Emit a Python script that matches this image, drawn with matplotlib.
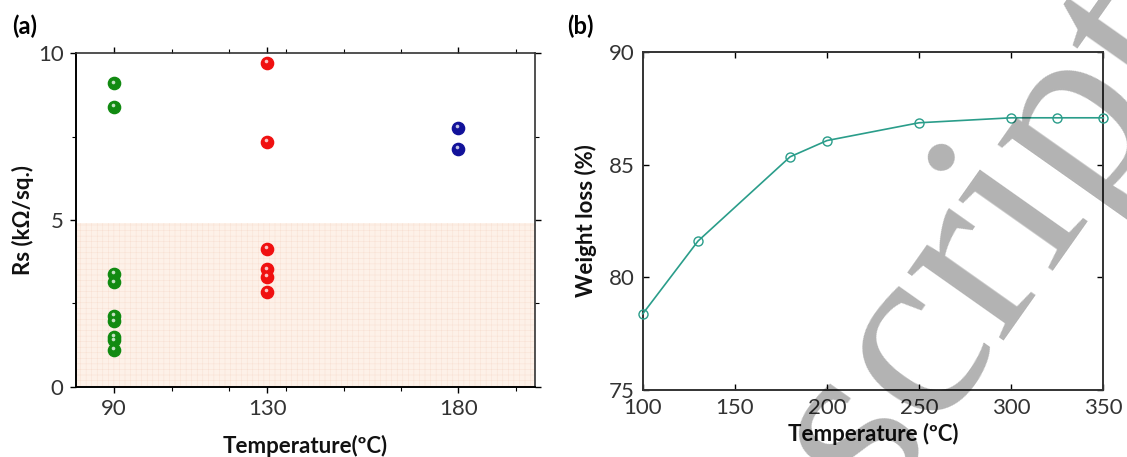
import matplotlib
matplotlib.use("Agg")
import matplotlib.pyplot as plt
import matplotlib.transforms as mtransforms
from matplotlib.ticker import MultipleLocator

# ---------------- data ----------------
temp_a_ticks = [90, 130, 180]
rs_90 = [9.1, 8.4, 3.38, 3.13, 2.13, 1.96, 1.49, 1.39, 1.11]
rs_130 = [9.72, 7.34, 4.13, 3.52, 3.30, 2.85]
rs_180 = [7.76, 7.13]
shade_top = 4.9

temp_b = [100, 130, 180, 200, 250, 300, 325, 350]
weight_loss = [78.38, 81.61, 85.35, 86.07, 86.86, 87.08, 87.08, 87.08]

plt.rcParams['font.family'] = ['Lato', 'DejaVu Sans']
plt.rcParams['hatch.linewidth'] = 0.35

fig = plt.figure(figsize=(11.27, 4.57), dpi=100)
ax1 = fig.add_axes([0.0674, 0.1538, 0.4073, 0.7295])
ax2 = fig.add_axes([0.5703, 0.1466, 0.4087, 0.7396])

tick_font = dict(fontsize=16, fontweight='normal', color='#333333')
label_font = dict(fontsize=16, fontweight='bold', color='#111111')

# ---------------- panel (a) ----------------
ax1.set_xlim(80, 200)
ax1.set_ylim(0, 10)
ax1.axhspan(0, shade_top, facecolor='#fdf1e8', edgecolor='#f8e0d2', hatch='+++', linewidth=0, zorder=0)

hl = mtransforms.ScaledTranslation(-1.2 / 72, 1.2 / 72, fig.dpi_scale_trans)
for xval, ys, col in [(90, rs_90, '#118a11'), (130, rs_130, '#f01010'), (180, rs_180, '#12129a')]:
    xs = [xval] * len(ys)
    ax1.plot(xs, ys, 'o', ms=8.8, color=col, mec=col, zorder=3, clip_on=False)
    ax1.plot(xs, ys, 'o', ms=2.6, color='white', alpha=0.75, mew=0, zorder=4,
             transform=ax1.transData + hl)

ax1.set_xticks(temp_a_ticks)
ax1.set_yticks([0, 5, 10])
ax1.yaxis.set_minor_locator(MultipleLocator(2.5))
ax1.xaxis.set_minor_locator(MultipleLocator(15))
ax1.tick_params(axis='both', which='major', direction='out', length=4, width=1, pad=5)
ax1.tick_params(axis='both', which='minor', direction='out', length=3, width=0.8)
ax1.tick_params(axis='x', which='both', top=True)
ax1.tick_params(axis='y', which='both', right=True)
for t in ax1.xaxis.get_major_ticks() + ax1.xaxis.get_minor_ticks():
    t.tick2line.set_color('#aaaaaa')
for lab in ax1.get_xticklabels() + ax1.get_yticklabels():
    lab.set(**tick_font)
for s in ['left', 'bottom']:
    ax1.spines[s].set_linewidth(1.4)
for s in ['top', 'right']:
    ax1.spines[s].set_linewidth(1.2)
    ax1.spines[s].set_color('#333333')
ax1.set_ylabel('Rs (kΩ/sq.)', labelpad=3, **label_font)
ax1.set_xlabel('Temperature(ºC)', labelpad=11, **label_font)
fig.text(0.0106, 0.969, '(a)', fontsize=17, fontweight='bold', va='top')

# ---------------- panel (b) ----------------
teal = '#2a9d8a'
ax2.plot(temp_b, weight_loss, '-o', color=teal, lw=1.2, ms=6.5, mfc='none', mec=teal, mew=1.0,
         clip_on=False, zorder=3)
ax2.set_xlim(100, 350)
ax2.set_ylim(75, 90)
ax2.set_xticks([100, 150, 200, 250, 300, 350])
ax2.set_yticks([75, 80, 85, 90])
ax2.tick_params(axis='both', which='major', direction='in', length=4, width=1, top=True, pad=6)
ax2.tick_params(axis='y', right=True)
for lab in ax2.get_xticklabels() + ax2.get_yticklabels():
    lab.set(**tick_font)
for t in ax2.yaxis.get_major_ticks():
    t.tick2line.set_color(teal)
for s in ax2.spines.values():
    s.set_linewidth(1.4)
    s.set_color('#333333')
ax2.set_ylabel('Weight loss (%)', labelpad=8, **label_font)
ax2.set_xlabel('Temperature (ºC)', labelpad=3, **label_font)
fig.text(0.503, 0.969, '(b)', fontsize=17, fontweight='bold', va='top')

# ---------------- watermark ----------------
fig.text(0.776, -0.114, 'script', fontsize=184, family=['Liberation Serif', 'DejaVu Serif'],
         color='black', alpha=0.3, rotation=54.8, rotation_mode='anchor',
         ha='left', va='baseline', zorder=10)

fig.savefig('out.png', dpi=100)
